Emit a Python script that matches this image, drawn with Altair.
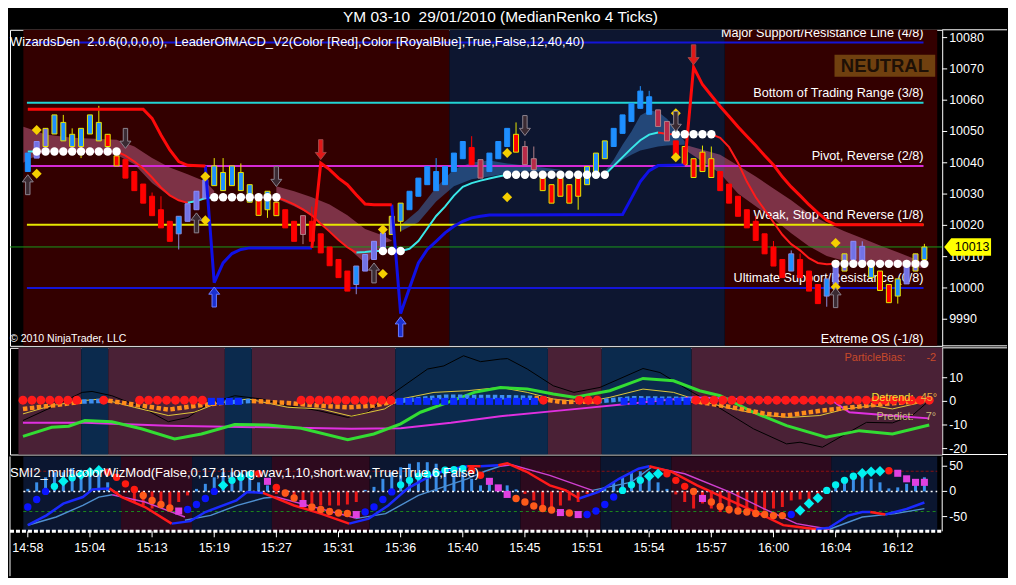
import altair as alt
import pandas as pd

# ---------------- texts ----------------
NB = "\u00a0"
TITLE = "YM 03-10" + NB + " 29/01/2010 (MedianRenko 4 Ticks)"
HEADER = "WizardsDen" + NB + " 2.0.6(0,0,0,0)," + NB + " LeaderOfMACD_V2(Color [Red],Color [RoyalBlue],True,False,12,40,40)"
COPYRIGHT = "\u00a9 2010 NinjaTrader, LLC"
SMI_TEXT = "SMI2_multicolorWizMod(False,0,17,1,long.wav,1,10,short.wav,True,True,6,False)"
STATUS = "NEUTRAL"
LAST_PRICE = 10013.1
LAST_LABEL = "10013"
INFO_NAMES = ["ParticleBias:", "Detrend:", "Predict:"]
INFO_VALUES = ["-2", "45\u00b0", "7\u00b0"]

TICK_BARS = [0, 7, 14, 21, 28, 35, 42, 49, 56, 63, 70, 77, 84, 91, 98]
TICK_LABELS = ["14:58", "15:04", "15:13", "15:19", "15:27", "15:31", "15:36", "15:40",
               "15:45", "15:51", "15:54", "15:57", "16:00", "16:04", "16:12"]
PRICE_TICKS = [9990, 10000, 10010, 10020, 10030, 10040, 10050, 10060, 10070, 10080]
MID_TICKS = [10, 0, -10, -20]
SMI_TICKS = [50, 0, -50]

# ---------------- candles (median renko bricks) ----------------
BODY_LO = [10037.2, 10041.5, 10045.2, 10049.2, 10047.0, 10045.2, 10045.2, 10049.2, 10047.0, 10045.2,
           10039.0, 10035.1, 10031.1, 10027.1, 10023.1, 10019.2, 10014.9, 10017.3, 10021.3, 10025.0,
           10028.7, 10032.7, 10031.1, 10032.7, 10031.1, 10027.4, 10023.2, 10025.0, 10023.1, 10019.2,
           10014.9, 10017.1, 10014.9, 10011.2, 10007.1, 10003.3, 9999.0, 10001.1, 10005.4, 10009.1,
           10012.3, 10017.1, 10021.3, 10025.0, 10029.3, 10033.0, 10031.1, 10033.0, 10037.2, 10041.3,
           10039.4, 10035.1, 10037.2, 10041.3, 10045.2, 10043.4, 10039.4, 10037.8, 10031.1, 10027.1,
           10029.3, 10027.1, 10029.3, 10033.0, 10037.2, 10041.3, 10045.2, 10049.4, 10053.2, 10057.4,
           10055.5, 10051.6, 10047.0, 10041.5, 10039.4, 10035.3, 10037.2, 10035.3, 10031.1, 10027.1,
           10022.9, 10019.2, 10015.2, 10010.9, 10007.0, 10003.3, 10005.4, 10003.3, 9999.0, 9995.0,
           9997.4, 10001.1, 10005.4, 10009.1, 10007.5, 10003.3, 9999.2, 9995.3, 9997.4, 10001.3,
           10005.4, 10009.1]
BODY_HI = [10043.1, 10046.8, 10051.0, 10055.3, 10052.9, 10049.1, 10051.0, 10055.3, 10052.9, 10049.1,
           10042.2, 10041.1, 10037.2, 10033.2, 10029.3, 10025.0, 10021.3, 10022.9, 10026.9, 10030.9,
           10034.6, 10039.0, 10036.9, 10039.0, 10036.9, 10033.0, 10028.4, 10030.9, 10027.4, 10025.0,
           10021.3, 10023.1, 10021.3, 10017.3, 10013.1, 10009.1, 10005.4, 10007.0, 10010.7, 10014.9,
           10017.6, 10022.9, 10027.1, 10030.9, 10035.1, 10038.8, 10037.2, 10038.8, 10043.1, 10046.8,
           10044.9, 10041.0, 10043.1, 10046.8, 10051.0, 10049.1, 10045.2, 10041.3, 10035.1, 10033.0,
           10035.1, 10033.0, 10035.1, 10038.8, 10043.1, 10047.0, 10051.0, 10055.3, 10059.0, 10062.9,
           10061.1, 10056.9, 10053.2, 10047.0, 10045.2, 10041.3, 10043.4, 10041.3, 10037.2, 10033.2,
           10029.3, 10025.0, 10021.3, 10017.3, 10013.1, 10009.1, 10010.9, 10009.1, 10005.4, 10001.1,
           10002.9, 10007.0, 10010.9, 10014.9, 10013.3, 10007.0, 10005.4, 10001.1, 10002.9, 10007.0,
           10010.9, 10013.1]
WICK_HI_EXT = {4: 10055.3, 5: 10051.0, 8: 10058.2, 14: 10030.5, 15: 10029.3, 21: 10041.5, 22: 10041.5,
               24: 10039.8, 32: 10026.0, 46: 10041.5, 50: 10048.5, 55: 10052.9, 56: 10047.0, 57: 10045.2,
               69: 10064.5, 70: 10063.0, 76: 10045.5, 77: 10045.2, 82: 10023.0, 84: 10015.0, 86: 10012.0,
               87: 10011.0, 94: 10014.9, 95: 10009.0, 101: 10014.1}
WICK_LO_EXT = {6: 10041.5, 17: 10012.3, 27: 10022.4, 31: 10014.0, 37: 9998.0, 42: 10018.0, 62: 10025.0,
               90: 9994.0, 98: 9995.0}
CANDLE_CAT = ["B", "L", "LY", "BY", "BY", "BY", "BY", "BY", "BY", "RY",
              "RY", "R", "R", "R", "R", "R", "R", "BL", "L", "L",
              "L", "BY", "BY", "BY", "BY", "BY", "RY", "BY", "RY", "R",
              "R", "DR", "R", "R", "R", "R", "R", "BL", "L", "L",
              "L", "LY", "BY", "B", "B", "B", "B", "B", "B", "B",
              "R", "DR", "B", "B", "B", "RY", "DR", "DR", "RY", "RY",
              "RY", "RY", "RY", "BY", "BY", "BY", "B", "B", "B", "B",
              "B", "DR", "DR", "R", "RY", "RY", "RY", "RY", "R", "R",
              "R", "R", "R", "R", "R", "R", "BL", "R", "R", "R",
              "BL", "L", "LY", "L", "L", "BY", "RY", "RY", "BY", "L",
              "LY", "BY"]

# ---------------- background states per bar ----------------
MAIN_BG = "r" * 48 + "b" * 31 + "r" * 23
MID_BG = "m" * 7 + "b" * 3 + "m" * 13 + "b" * 3 + "m" * 16 + "b" * 17 + "m" * 6 + "b" * 10 + "m" * 27
BOT_BG = "n" * 11 + "m" * 8 + "n" * 9 + "m" * 11 + "n" * 17 + "m" * 9 + "n" * 8 + "m" * 18 + "n" * 11
BIAS = "r" * 7 + "n" * 2 + "r" + "n" * 3 + "r" * 8 + "b" * 4 + "n" * 6 + "r" * 11 + "b" * 16 + "r" + \
       "n" * 3 + "r" * 3 + "n" * 2 + "b" * 8 + "r" * 27
BIAS_LEVEL = {"r": 0.5, "b": 0.0}

# ---------------- Murrey math lines ----------------
MURREY_KEY = ["4/8", "3/8", "2/8", "1/8", "0/8", "-1/8"]
MURREY_V = [10078.4, 10059.2, 10039.0, 10020.2, 10000.0, 9980.5]
MURREY_TEXT = ["Major Support/Resistance Line (4/8)", "Bottom of Trading Range (3/8)",
               "Pivot, Reverse (2/8)", "Weak, Stop and Reverse (1/8)",
               "Ultimate Support/Resistance (0/8)", "Extreme OS (-1/8)"]
MURREY_FROM, MURREY_TO = -0.1, 100.9

# ---------------- trailing stop (LeaderOfMACD) ----------------
STOP = [
    ("dn", [0, 13, 14, 15, 16, 17, 18, 20],
     [10057.1, 10057.1, 10054.2, 10048.9, 10044.1, 10040.4, 10039.2, 10039.0]),
    ("up", [20, 21, 22, 23, 24, 25, 32],
     [10039.0, 10001.7, 10008.0, 10011.0, 10012.3, 10012.8, 10012.8]),
    ("dn", [32, 33, 34, 35, 36, 37, 38, 39, 41],
     [10012.8, 10039.9, 10037.8, 10035.1, 10033.0, 10029.8, 10026.8, 10026.6, 10026.6]),
    ("up", [41, 42, 43, 44, 45, 46, 47, 48, 49, 50, 51, 52, 67, 68, 69, 70, 71, 74],
     [10026.6, 9991.8, 10000.0, 10008.0, 10012.3, 10014.9, 10017.6, 10019.7, 10021.3, 10022.4,
      10022.9, 10023.3, 10023.5, 10028.7, 10034.0, 10037.5, 10039.1, 10039.3]),
    ("dn", [74, 75, 76, 77, 78, 79, 80, 81, 82, 83, 84, 85, 86, 87, 88, 89, 90, 91, 100.9],
     [10039.3, 10070.6, 10065.0, 10061.5, 10058.0, 10054.8, 10051.5, 10048.5, 10045.5, 10042.3,
      10039.3, 10035.5, 10032.3, 10029.5, 10026.6, 10024.0, 10021.6, 10020.2, 10020.2]),
]

# ---------------- moving average ----------------
MA = [
    ("up", [0, 1], [10043.6, 10043.6]),
    ("dn", [10, 11, 12, 13, 14, 15, 16, 17, 18],
     [10043.6, 10042.3, 10040.4, 10038.2, 10035.3, 10032.1, 10029.6, 10028.0, 10027.2]),
    ("up", [18, 19, 20, 21], [10027.2, 10027.8, 10028.7, 10029.0]),
    ("dn", [28, 29, 30, 31, 32, 33, 34, 35, 36, 37],
     [10029.0, 10028.0, 10026.7, 10025.1, 10023.2, 10020.5, 10018.0, 10015.3, 10013.0, 10011.3]),
    ("up", [37, 38, 39, 40], [10011.3, 10011.5, 10011.8, 10011.8]),
    ("up", [42, 43, 44, 45, 46, 47, 48, 49, 50, 51, 52, 53, 54],
     [10011.8, 10012.5, 10015.0, 10019.0, 10023.0, 10026.0, 10029.5, 10032.3, 10033.5, 10034.3,
      10035.0, 10035.6, 10036.2]),
    ("up", [65, 66, 67, 68, 69, 70, 71], [10036.2, 10039.0, 10041.8, 10044.6, 10047.2, 10049.0, 10049.7]),
    ("dn", [71, 72, 73], [10049.7, 10049.2, 10049.1]),
    ("dn", [77, 78, 79, 80, 81, 82, 83, 84, 85, 86, 87, 88, 89, 90, 91],
     [10049.1, 10048.0, 10045.0, 10040.0, 10034.0, 10029.0, 10025.0, 10021.0, 10017.0, 10014.0,
      10012.0, 10009.5, 10008.0, 10007.6, 10007.7]),
]
FLAT_RUNS = [(1, 10, 10043.6), (21, 28, 10029.0), (40, 42, 10011.8), (54, 65, 10036.2),
             (73, 77, 10049.1), (91, 101, 10007.7)]

# ---------------- cloud band ----------------
BAND = [
    ("dn", [-0.5, 0, 2, 5, 10, 12, 14, 16, 18, 20, 21],
     [10051.5, 10051.0, 10049.0, 10048.0, 10047.4, 10045.2, 10041.5, 10038.5, 10036.3, 10034.0, 10031.0],
     [10040.0, 10041.0, 10043.6, 10043.6, 10042.6, 10039.5, 10033.5, 10029.3, 10027.0, 10028.3, 10030.0]),
    ("dn", [28, 30, 32, 34, 36, 38, 39, 40, 41],
     [10032.5, 10030.9, 10029.0, 10026.7, 10023.2, 10018.8, 10017.8, 10016.8, 10015.2],
     [10028.6, 10026.1, 10023.2, 10018.1, 10013.0, 10007.9, 10010.2, 10014.3, 10015.0]),
    ("up", [42, 44, 46, 48, 50, 52, 54, 56, 58, 60],
     [10020.0, 10024.8, 10032.1, 10037.9, 10040.1, 10040.7, 10039.8, 10039.1, 10038.5, 10037.8],
     [10018.1, 10021.0, 10027.6, 10032.5, 10034.7, 10035.6, 10036.6, 10037.2, 10037.2, 10037.6]),
    ("up", [65, 66, 67, 68, 69, 70, 71, 72, 73, 74],
     [10037.2, 10041.0, 10045.8, 10050.0, 10055.1, 10056.7, 10056.3, 10054.1, 10050.9, 10046.8],
     [10036.0, 10038.5, 10041.0, 10042.6, 10043.9, 10044.6, 10045.2, 10045.5, 10045.7, 10045.8]),
    ("dn", [74, 76, 78, 80, 82, 84, 86, 88, 90, 92, 94, 96, 98, 100, 101],
     [10045.8, 10044.2, 10042.6, 10039.1, 10035.6, 10031.8, 10028.0, 10023.8, 10020.7, 10018.1,
      10015.9, 10013.6, 10011.4, 10009.2, 10007.9],
     [10044.2, 10040.4, 10036.6, 10030.2, 10026.1, 10022.0, 10017.5, 10013.3, 10010.2, 10008.6,
      10007.6, 10007.3, 10007.0, 10006.6, 10006.3]),
]

# ---------------- signals ----------------
DIAMOND_BARS = [1, 1, 20, 20, 40, 40, 54, 54, 73, 73, 91, 91]
DIAMOND_V = [10050.5, 10036.5, 10035.6, 10021.6, 10018.7, 10004.5, 10043.1, 10029.0, 10055.8, 10041.8,
             10014.4, 10000.3]
ARROW_BARS = [0, 19, 39, 91, 11, 28, 56, 73, 33, 75, 21, 42]
ARROW_V = [10033.0, 10020.8, 10004.8, 9996.9, 10047.8, 10035.6, 10051.9, 10053.2, 10044.2, 10074.5,
           9997.1, 9987.6]
ARROW_DIR = ["up", "up", "up", "up", "dn", "dn", "dn", "dn", "dn", "dn", "up", "up"]
ARROW_KIND = ["gray", "gray", "gray", "gray", "gray", "gray", "gray", "gray", "red", "red", "blue", "blue"]

# ---------------- middle panel ----------------
BLACK_X = [0, 3.2, 6.6, 7.7, 9.9, 13.2, 16.2, 18.4, 20.6, 23.6, 26.6, 29.5, 32.9, 36.2, 38.4, 41.4, 45.1,
           46.9, 49.1, 51, 53.2, 54, 56.2, 59.1, 61.4, 64.3, 69.1, 71, 74, 76.9, 81.4, 85.1, 86.6, 89.1,
           91.7, 94, 96.9, 99.1, 101]
BLACK_V = [-8.1, -2.5, 3.8, 4.2, 2.4, -2.5, -8.6, -6.8, -1.1, 2.4, 1, -1.8, -3.9, -6.8, -4.6, 3.8, 13.7,
           15, 19.3, 16.8, 17.9, 18.1, 13.7, 6.6, 3.8, 5.9, 13.9, 12.2, 5.2, -1.1, -11.6, -18, -17.3, -19.4,
           -13.8, -8.9, -9.1, -6, 0.3]
YELLOW_X = [0, 3.2, 6.6, 8.8, 12.4, 16.2, 19.1, 21.7, 25.1, 29.5, 33.2, 36.6, 40.3, 42.1, 45.8, 49.5, 53.2,
            56.2, 59.1, 62.5, 65.4, 69.1, 72.5, 75.4, 79.1, 82.9, 85.4, 88.8, 91.7, 94.7, 96.9, 101]
YELLOW_V = [-5.3, -1.8, 0.3, 1, -2.5, -6, -4.6, -0.7, 1, -2.5, -3.2, -6.3, -3.2, 1, 3.8, 4.5, 5.9,
            3.8, 1, -0.4, 1.7, 5.2, 3.8, 0.3, -3.2, -6, -6.8, -6, -3.2, -1.8, -3.2, 0.3]
GREEN_X = [0, 3.2, 5.1, 6.9, 9.9, 13.2, 16.9, 19.9, 23.6, 27.3, 31, 36.2, 39.1, 42.1, 44.3, 46.9, 50.3,
           53.2, 56.2, 59.1, 61.4, 65.4, 69.1, 72.5, 75.4, 77.7, 81.4, 85.1, 89.5, 93.2, 96.9, 101]
GREEN_V = [-14.8, -11, -10.5, -8.1, -8.6, -11.6, -15.9, -13.8, -9.8, -10, -11.4, -16.2, -13.8, -9.5, -4.6,
           -1.1, 3.8, 5.9, 5.2, 3.1, 1.7, 4.5, 9.7, 8.7, 4.5, 2.4, -4.6, -10.3, -15.2, -12.4, -13.8, -10]
MAGENTA_X = [0, 6.9, 16.2, 27.3, 36.6, 42.1, 47.7, 53.2, 60.6, 67.3, 74.7, 82.1, 90.2, 92.1, 97.7, 101]
MAGENTA_V = [-9.1, -9.1, -10.3, -11, -11.6, -11.4, -9.1, -6.3, -3.6, -1.1, 1.7, 0.6, 0.3, -4.6, -6.3, -7.2]
DOTTED = [
    ("o", [0, 3.2, 6.6], [-3.2, -1.8, -0.1]),
    ("b", [6.6, 9.5], [-0.1, 0.3]),
    ("o", [9.5, 13.2, 16.2, 20, 22.5], [0.3, -1.8, -3.5, -1.5, -0.5]),
    ("b", [22.5, 25.5], [-0.5, 0.2]),
    ("o", [25.5, 29.5, 33, 36.2, 39.1, 41.5], [0.2, -0.7, -1.8, -2.5, -1.8, 0]),
    ("b", [41.5, 47, 53, 57], [0, 2, 1.8, 1.5]),
    ("o", [57, 60, 64], [1.5, -0.3, 0]),
    ("b", [64, 68, 74.5], [0, 1.3, 1]),
    ("o", [74.5, 79, 82.8, 85, 89, 92.5, 95.8, 101], [0.3, -2.5, -5.3, -6, -3.9, -2.5, -1.1, 0.3]),
]

# ---------------- SMI panel ----------------
HIST = [5, 18, 28, 38, 38, 46, 42, 38, 35, 18, -5, -2, -21, -28, -34, -28, -28, -21, -8, 5,
        15, 28, 38, 38, 38, 35, 18, 12, -5, -11, -15, -21, -24, -28, -28, -28, -26, -21, 3, 9,
        25, 38, 48, 55, 58, 58, 55, 48, 45, 38, 25, 12, 18, 9, 12, 4, -5, -18, -28, -34,
        -28, -18, -21, -5, 0, 8, 18, 28, 38, 40, 31, 18, 5, -6, -21, -34, -24, -34, -41, -44,
        -41, -39, -38, -38, -34, -31, -18, -16, -18, -5, 0, 12, 25, 31, 31, 25, 18, 6, 8, 15,
        18, 28]
SMI_DOT_V = [-31, -16, 0, 10, 20, 27, 33, 38, 42, 38, 28, 15, 4, -8, -18, -26, -33, -39, -36, -26,
             -14, 0, 12, 22, 28, 33, 35, 20, 8, -3, -13, -24, -31, -36, -40, -43, -44, -46, -41, -31,
             -16, -1, 13, 22, 30, 34, 36, 42, 43, 45, 42, 32, 20, 7, -6, -14, -21, -29, -34, -37,
             -42, -43, -46, -46, -39, -26, -11, 2, 13, 22, 30, 35, 35, 22, 10, 0, -14, -21, -30, -36,
             -39, -41, -44, -46, -48, -48, -46, -38, -24, -13, 2, 13, 22, 30, 36, 39, 40, 41, 36, 25,
             18, 18]
SMI_DOT_T = ["bl", "bl", "bl", "cy", "cyd", "cy", "cyd", "cyd", "cyd", "rd",
             "rd", "rd", "rd", "or", "or", "or", "or", "mg", "bl", "bl",
             "bl", "bl", "cyd", "cy", "cy", "cy", "rd", "mg", "rd", "or",
             "or", "mg", "or", "or", "or", "or", "or", "mg", "bl", "bl",
             "bl", "bl", "cy", "cy", "cy", "cy", "cy", "cy", "cy", "cy",
             "rd", "rd", "mg", "mg", "mg", "or", "or", "or", "or", "or",
             "mg", "or", "mg", "bl", "bl", "bl", "bl", "cy", "cy", "cy",
             "cyd", "cyd", "rd", "rd", "rd", "or", "mg", "or", "or", "or",
             "or", "or", "or", "or", "or", "or", "bl", "cyd", "cyd", "cyd",
             "cy", "cy", "cy", "cy", "cyd", "cyd", "cyd", "rd", "mg", "mg",
             "mg", "mg"]
SMI_LINE = [
    ("b", [0, 2.1, 4.0, 6.2, 7.3, 8.4, 9.2], [-67, -47.5, -24.4, -11.2, 4, 5.3, 6]),
    ("r", [9.2, 10.6, 13.2, 16.2], [6, -11.2, -31, -64]),
    ("b", [16.2, 18.3, 20, 23.5, 24.7, 26.5], [-64, -59, -41, -18, -1, -3]),
    ("r", [26.5, 30, 33, 36.2], [-3, -28, -44, -64]),
    ("b", [36.2, 38.4, 40.6, 42.8, 45.8, 48, 49.5], [-64, -54, -28, 6, 35, 45, 50]),
    ("r", [49.5, 51], [50, 50]),
    ("b", [51, 53], [50, 52]),
    ("r", [53, 54, 56.2, 58.8, 60.6, 62.1], [52, 56, 39, 12, 2, -14]),
    ("b", [62.1, 64.3, 66.6, 68.8, 70], [-14, -1, 25, 45, 50]),
    ("r", [70, 72.5, 75.4, 79.1, 82.9, 85.1, 86.6, 88.8], [50, 39, 12, -18, -48, -67, -70, -75]),
    ("b", [88.8, 90.3, 92.4, 94, 94.9], [-75, -72, -48, -41, -41]),
    ("r", [94.9, 96.6], [-41, -46]),
    ("b", [96.6, 99, 101], [-46, -35, -22]),
]
SMI_SIGNAL = [
    ("lb", [0, 3.2, 6.2, 8.0, 9.5], [-67.3, -50.8, -27.7, -11.2, -6.6]),
    ("mg", [9.5, 13.2, 17.7], [-6.6, -21.1, -50.8]),
    ("lb", [17.7, 20.6, 23.6, 26.6, 28], [-57.4, -47.5, -27.7, -13.2, -11.2]),
    ("mg", [28, 32.9, 36.9], [-11.2, -34.3, -52.8]),
    ("lb", [36.9, 40.3, 44, 49.5, 51.5, 53.2], [-54.1, -44.2, -7.9, 25, 40, 50]),
    ("mg", [53.2, 54.5, 58.8, 63.6], [50, 53, 31.7, 2]),
    ("lb", [63.6, 68, 69.9, 70.3], [2, 18.5, 43.6, 48.2]),
    ("mg", [70.3, 74, 79.1, 82.9, 86.6, 90.3], [48.2, 35, -1.3, -34.3, -64, -75.2]),
    ("lb", [90.3, 94, 97.7, 101], [-75.2, -50.8, -44.2, -34.3]),
]
SMI_LEVELS = [0, 40, -40]

# ---------------- styles ----------------
FONT = "Liberation Sans, Arial, sans-serif"
AXIS_FONT_SIZE = 12.5
CAT_FILL = {"R": "#ff0000", "RY": "#ff0000", "DR": "#b82a48", "B": "#1e8fff", "BY": "#1e8fff",
            "BL": "#1e8fff", "L": "#7272e6", "LY": "#7272e6"}
CAT_STROKE = {"R": "#ff0000", "RY": "#e6e600", "DR": "#b08088", "B": "#1e8fff", "BY": "#e6e600",
              "BL": "#8a8ad8", "L": "#8c8cf8", "LY": "#e6e600"}
MURREY_COLOR = {"4/8": "#1414d8", "3/8": "#22d4d4", "2/8": "#d52ad5", "1/8": "#e6e600",
                "0/8": "#1414d8", "-1/8": "#888888"}
MAIN_BG_COLOR = {"r": "#330000", "b": "#0d1630"}
MID_BG_COLOR = {"m": "#4a2136", "b": "#0b2a4d"}
BOT_BG_COLOR = {"n": "#0b1630", "m": "#2d0a1e"}
BAND_COLOR = {"dn": "#c8648c", "up": "#3a78c0"}
MA_COLOR = {"up": "#3ae8e8", "dn": "#ff1a1a"}
STOP_COLOR = {"up": "#1010e6", "dn": "#ff0a0a"}
ARROW_FILL = {"gray": "#3a2a32", "red": "#e01818", "blue": "#1a30d0"}
ARROW_STROKE = {"gray": "#8c8490", "red": "#a04848", "blue": "#6a7aff"}
DOT_COLOR = {"o": "#ff8c1a", "b": "#3d8ef0"}
SMI_COLOR = {"b": "#1a2aff", "r": "#ff1a1a"}
SIG_COLOR = {"lb": "#4f8fd0", "mg": "#d040d0"}
SMI_DOT_STYLE = {"cy": ("circle", "#00f0f0", 55), "cyd": ("diamond", "#00f0f0", 110),
                 "bl": ("circle", "#0a14ff", 55), "rd": ("circle", "#ff1a10", 55),
                 "or": ("circle", "#ff5a1a", 55), "mg": ("square", "#e040e0", 50)}
BIAS_STYLE = {"r": ("circle", "#ff1a1a", 80), "b": ("square", "#0a28ff", 50)}
UP_PATH = "M-0.22,1 L0.22,1 L0.22,-0.28 L0.55,-0.28 L0,-1 L-0.55,-0.28 L-0.22,-0.28 Z"
DN_PATH = "M-0.22,-1 L0.22,-1 L0.22,0.28 L0.55,0.28 L0,1 L-0.55,0.28 L-0.22,0.28 Z"
TAG_PATH = "M-1,0 L-0.7,-0.37 L1,-0.37 L1,0.37 L-0.7,0.37 Z"

W = 935
H1, H2, H3 = 317, 107, 75
XMIN, XMAX = -13 / 9, 922 / 9
XS = alt.Scale(domain=[XMIN, XMAX], nice=False, zero=False)
Y1S = alt.Scale(domain=[9981.5, 10082.5], nice=False, zero=False)
Y2S = alt.Scale(domain=[-22.5, 22.66], nice=False, zero=False)
Y3S = alt.Scale(domain=[-79.2, 69.3], nice=False, zero=False)
ONE = pd.DataFrame({"k": [0]})


def X(f):
    return alt.X(f, type="quantitative", scale=XS, axis=None)


def Y(f, s):
    return alt.Y(f, type="quantitative", scale=s, axis=None)


def right_axis(values, s):
    df = pd.DataFrame({"v": values, "lab": [str(v) for v in values]})
    return [
        alt.Chart(df).mark_rule(color="white", strokeWidth=1).encode(
            x=alt.value(W), x2=alt.value(W + 5), y=Y("v", s)),
        alt.Chart(df).mark_text(align="left", baseline="middle", font=FONT, fontSize=AXIS_FONT_SIZE,
                                color="white").encode(x=alt.value(W + 7), y=Y("v", s), text="lab:N"),
    ]


def runs(states):
    out, start = [], 0
    for i in range(1, len(states) + 1):
        if i == len(states) or states[i] != states[start]:
            out.append({"x0": start - 0.5, "x1": (i - 0.5) if i < len(states) else XMAX, "c": states[start]})
            start = i
    return pd.DataFrame(out)


def seg_df(segs):
    rows = []
    for k, (kind, xs, vs) in enumerate(segs):
        for x, v in zip(xs, vs):
            rows.append({"seg": k, "kind": kind, "x": x, "v": v})
    return pd.DataFrame(rows)


def bg_layers(states, colors, h):
    df = runs(states)
    return [alt.Chart(df[df.c == k]).mark_rect(color=c).encode(
        x=X("x0"), x2="x1", y=alt.value(0), y2=alt.value(h)) for k, c in colors.items()]


def seg_layers(segs, colors, s, width, dash=None):
    df = seg_df(segs)
    out = []
    for k, c in colors.items():
        sub = df[df.kind == k]
        if len(sub) == 0:
            continue
        mk = dict(color=c, strokeWidth=width)
        if dash:
            mk["strokeDash"] = dash
        out.append(alt.Chart(sub).mark_line(**mk).encode(x=X("x"), y=Y("v", s), detail="seg:N"))
    return out


def hline_ext(y):
    return alt.Chart(ONE).mark_rule(color="white", strokeWidth=1).encode(
        x=alt.value(W), x2=alt.value(1000), y=alt.value(y))


def text_at(txt, x, y, size, color="white", align="left", font=FONT, weight="normal", baseline="middle"):
    return alt.Chart(pd.DataFrame({"t": [txt]})).mark_text(
        align=align, baseline=baseline, font=font, fontSize=size, color=color, fontWeight=weight
    ).encode(x=alt.value(x), y=alt.value(y), text="t:N")


# ================= PANEL 1 =================
candles = pd.DataFrame({
    "i": list(range(len(BODY_LO))), "blo": BODY_LO, "bhi": BODY_HI,
    "wlo": [WICK_LO_EXT.get(i, v) for i, v in enumerate(BODY_LO)],
    "whi": [WICK_HI_EXT.get(i, v) for i, v in enumerate(BODY_HI)],
    "cat": CANDLE_CAT,
})
band_rows = []
for k, (kind, xs, his, los) in enumerate(BAND):
    for x, h, l in zip(xs, his, los):
        band_rows.append({"seg": k, "kind": kind, "x": x, "hi": h, "lo": l})
band_df = pd.DataFrame(band_rows)
murrey_df = pd.DataFrame({"key": MURREY_KEY, "v": MURREY_V, "label": MURREY_TEXT,
                          "x0": MURREY_FROM, "x1": MURREY_TO})
flat_rows = []
for a, b, v in FLAT_RUNS:
    for i in range(a, b + 1):
        flat_rows.append({"i": i, "v": v})
flat_df = pd.DataFrame(flat_rows)
arrow_df = pd.DataFrame({"i": ARROW_BARS, "v": ARROW_V, "dir": ARROW_DIR, "kind": ARROW_KIND})
dia_df = pd.DataFrame({"i": DIAMOND_BARS, "v": DIAMOND_V})

p1_layers = bg_layers(MAIN_BG, MAIN_BG_COLOR, H1)
for k, c in BAND_COLOR.items():
    p1_layers.append(alt.Chart(band_df[band_df.kind == k]).mark_area(color=c, opacity=0.5).encode(
        x=X("x"), y=Y("hi", Y1S), y2="lo", detail="seg:N"))
p1_layers.append(alt.Chart(pd.DataFrame({"v": [LAST_PRICE]})).mark_rule(color="#1a9a1a", strokeWidth=1).encode(
    y=Y("v", Y1S)))
for k, c in MURREY_COLOR.items():
    p1_layers.append(alt.Chart(murrey_df[murrey_df.key == k]).mark_rule(color=c, strokeWidth=2, clip=True).encode(
        x=X("x0"), x2="x1", y=Y("v", Y1S)))
p1_layers.append(alt.Chart(murrey_df).mark_text(align="right", baseline="bottom", dy=-3, font=FONT, fontSize=12.7,
                                                color="white", clip=True).encode(
    x=X("x1"), y=Y("v", Y1S), text="label:N"))
p1_layers += seg_layers(MA, MA_COLOR, Y1S, 2)
for k in CAT_FILL:
    sub = candles[candles.cat == k]
    p1_layers.append(alt.Chart(sub).mark_rule(color=CAT_STROKE[k], strokeWidth=1).encode(
        x=X("i"), y=Y("wlo", Y1S), y2="whi"))
    p1_layers.append(alt.Chart(sub).mark_bar(size=5, fill=CAT_FILL[k], stroke=CAT_STROKE[k], strokeWidth=1).encode(
        x=X("i"), y=Y("blo", Y1S), y2="bhi"))
p1_layers += seg_layers(STOP, STOP_COLOR, Y1S, 3)
p1_layers.append(alt.Chart(flat_df).mark_circle(size=72, color="white", opacity=1).encode(x=X("i"), y=Y("v", Y1S)))
p1_layers.append(alt.Chart(dia_df).mark_point(shape="diamond", filled=True, size=100, color="#f5cf00",
                                              opacity=1).encode(x=X("i"), y=Y("v", Y1S)))
for d, path in (("up", UP_PATH), ("dn", DN_PATH)):
    for k in ARROW_FILL:
        sub = arrow_df[(arrow_df.dir == d) & (arrow_df.kind == k)]
        if len(sub) == 0:
            continue
        p1_layers.append(alt.Chart(sub).mark_point(shape=path, filled=False, size=400, strokeWidth=1,
                                                   fill=ARROW_FILL[k], stroke=ARROW_STROKE[k], opacity=1,
                                                   fillOpacity=1).encode(x=X("i"), y=Y("v", Y1S)))
p1_layers += right_axis(PRICE_TICKS, Y1S)
p1_layers += [
    text_at(HEADER, 0, 12, 12.9),
    text_at(COPYRIGHT, 0, 310, 10.6),
    alt.Chart(ONE).mark_rect(color="#70400f").encode(
        x=alt.value(827), x2=alt.value(928), y=alt.value(25), y2=alt.value(47)),
    text_at(STATUS, 877.5, 36.5, 18.5, color="#1e1006", align="center", weight="bold"),
    alt.Chart(pd.DataFrame({"v": [LAST_PRICE]})).mark_point(
        shape=TAG_PATH, filled=True, size=2209, color="#ffff00", opacity=1).encode(
        x=alt.value(960.5), y=Y("v", Y1S)),
    alt.Chart(pd.DataFrame({"v": [LAST_PRICE], "t": [LAST_LABEL]})).mark_text(
        font=FONT, fontSize=AXIS_FONT_SIZE, color="black", align="center", baseline="middle").encode(
        x=alt.value(965), y=Y("v", Y1S), text="t:N"),
    text_at(TITLE, 492, -8, 15.5, align="center", baseline="alphabetic"),
    hline_ext(0),
    hline_ext(H1),
]
p1 = alt.layer(*p1_layers).properties(width=W, height=H1)

# ================= PANEL 2 =================
bias_df = pd.DataFrame([{"i": i, "s": s, "v": BIAS_LEVEL[s]} for i, s in enumerate(BIAS) if s != "n"])
p2_layers = bg_layers(MID_BG, MID_BG_COLOR, H2)
p2_layers += [
    alt.Chart(pd.DataFrame({"x": BLACK_X, "v": BLACK_V})).mark_line(color="black", strokeWidth=1).encode(
        x=X("x"), y=Y("v", Y2S)),
    alt.Chart(pd.DataFrame({"x": YELLOW_X, "v": YELLOW_V})).mark_line(color="#e0c83a", strokeWidth=1).encode(
        x=X("x"), y=Y("v", Y2S)),
    alt.Chart(pd.DataFrame({"x": MAGENTA_X, "v": MAGENTA_V})).mark_line(color="#e030e0", strokeWidth=2).encode(
        x=X("x"), y=Y("v", Y2S)),
    alt.Chart(pd.DataFrame({"x": GREEN_X, "v": GREEN_V})).mark_line(color="#33dd33", strokeWidth=3).encode(
        x=X("x"), y=Y("v", Y2S)),
]
p2_layers += seg_layers(DOTTED, DOT_COLOR, Y2S, 4.5, dash=[4.5, 2.5])
for k, (shape, c, size) in BIAS_STYLE.items():
    p2_layers.append(alt.Chart(bias_df[bias_df.s == k]).mark_point(
        shape=shape, filled=True, color=c, size=size, opacity=1).encode(x=X("i"), y=Y("v", Y2S)))
p2_layers += right_axis(MID_TICKS, Y2S)
p2_layers += [
    text_at(INFO_NAMES[0], 837, 10.7, 11, color="#c84a2a"),
    text_at(INFO_VALUES[0], 929, 10.7, 11, color="#c84a2a", align="right"),
    text_at(INFO_NAMES[1], 864, 50, 11, color="#f0e030"),
    text_at(INFO_VALUES[1], 930, 50, 11, color="#e8b040", align="right"),
    text_at(INFO_NAMES[2], 869, 69.7, 11, color="#c8b878"),
    text_at(INFO_VALUES[2], 929, 69.7, 11, color="#c8b878", align="right"),
    hline_ext(0),
    hline_ext(H2),
]
p2 = alt.layer(*p2_layers).properties(width=W, height=H2)

# ================= PANEL 3 =================
hist_df = pd.DataFrame({"i": list(range(len(HIST))), "v": HIST})
smi_dots = pd.DataFrame({"i": list(range(len(SMI_DOT_V))), "v": SMI_DOT_V, "t": SMI_DOT_T})
lvl_df = pd.DataFrame({"v": SMI_LEVELS, "x0": -0.5, "x1": XMAX})
xt_df = pd.DataFrame({"i": TICK_BARS, "lab": TICK_LABELS})
p3_layers = bg_layers(BOT_BG, BOT_BG_COLOR, H3)
p3_layers += [
    alt.Chart(lvl_df[lvl_df.v == 40]).mark_rule(color="#8c1010", strokeWidth=1, strokeDash=[3, 2]).encode(
        x=X("x0"), x2="x1", y=Y("v", Y3S)),
    alt.Chart(lvl_df[lvl_df.v == -40]).mark_rule(color="#1c8c1c", strokeWidth=1, strokeDash=[3, 3]).encode(
        x=X("x0"), x2="x1", y=Y("v", Y3S)),
    alt.Chart(hist_df[hist_df.v >= 0]).mark_bar(size=3, color="#3a8ee8").encode(
        x=X("i"), y=Y("v", Y3S), y2=alt.datum(0)),
    alt.Chart(hist_df[hist_df.v < 0]).mark_bar(size=3, color="#e81818").encode(
        x=X("i"), y=Y("v", Y3S), y2=alt.datum(0)),
    alt.Chart(lvl_df[lvl_df.v == 0]).mark_rule(color="white", strokeWidth=1.5, strokeDash=[2, 3]).encode(
        x=X("x0"), x2="x1", y=Y("v", Y3S)),
]
p3_layers += seg_layers(SMI_SIGNAL, SIG_COLOR, Y3S, 1.4)
p3_layers += seg_layers(SMI_LINE, SMI_COLOR, Y3S, 2.5)
for k, (shape, c, size) in SMI_DOT_STYLE.items():
    p3_layers.append(alt.Chart(smi_dots[smi_dots.t == k]).mark_point(
        shape=shape, filled=True, color=c, size=size, opacity=1).encode(x=X("i"), y=Y("v", Y3S)))
p3_layers += right_axis(SMI_TICKS, Y3S)
p3_layers += [
    text_at(SMI_TEXT, 0, 17, 13.1),
    # frame: left border (down to the window bottom), right axis line, dashed time axis
    alt.Chart(ONE).mark_rule(color="white", strokeWidth=1).encode(
        x=alt.value(0), y=alt.value(0), y2=alt.value(H3 + 45)),
    alt.Chart(ONE).mark_rule(color="white", strokeWidth=1).encode(
        x=alt.value(W), y=alt.value(0), y2=alt.value(H3)),
    alt.Chart(ONE).mark_rule(color="white", strokeWidth=3, strokeDash=[4, 2]).encode(
        x=alt.value(0), x2=alt.value(W), y=alt.value(H3)),
    alt.Chart(xt_df).mark_rule(color="white", strokeWidth=1).encode(
        x=X("i"), y=alt.value(H3), y2=alt.value(H3 + 6)),
    alt.Chart(xt_df).mark_text(align="center", baseline="top", font=FONT, fontSize=AXIS_FONT_SIZE,
                               color="white").encode(x=X("i"), y=alt.value(H3 + 11), text="lab:N"),
    # black filler so the dark window background reaches the bottom of the page
    alt.Chart(ONE).mark_rule(color="black", strokeWidth=1).encode(
        x=alt.value(1), x2=alt.value(W), y=alt.value(H3 + 45)),
]
p3 = alt.layer(*p3_layers).properties(width=W, height=H3, view=alt.ViewBackground(strokeOpacity=0))

chart = alt.vconcat(p1, p2, p3, spacing=2, bounds="flush").properties(
    background="black", padding={"left": 0, "top": 0, "right": 0, "bottom": 0}
).configure_view(stroke="white", strokeWidth=1).configure_axis(grid=False)

chart.save("out.html", embed_options={"renderer": "svg", "actions": False})
